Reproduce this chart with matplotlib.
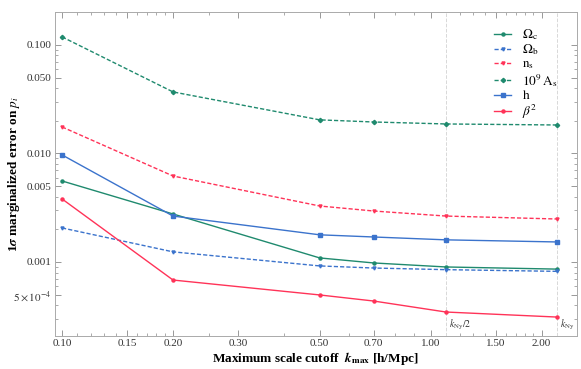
import matplotlib
matplotlib.use('Agg')
import matplotlib.pyplot as plt
from matplotlib.ticker import FixedLocator, NullFormatter

plt.rcParams['font.family'] = ['Liberation Serif', 'DejaVu Serif']
plt.rcParams['mathtext.fontset'] = 'stix'

# Scale cutoffs k_max [h/Mpc]
k_max = [0.1, 0.2, 0.5, 0.7, 1.1, 2.2]
k_ny = 2.2

# 1 sigma marginalized errors
err_omega_c = [0.00558, 0.00277, 0.00109, 0.00098, 0.00090, 0.00086]
err_omega_b = [0.00206, 0.00124, 0.00092, 0.00088, 0.00085, 0.00082]
err_ns = [0.01755, 0.0062, 0.00328, 0.00295, 0.00265, 0.00249]
err_as = [0.1186, 0.0369, 0.0204, 0.0195, 0.0187, 0.0183]
err_h = [0.0097, 0.00265, 0.00178, 0.0017, 0.0016, 0.00153]
err_beta2 = [0.00381, 0.000682, 0.000497, 0.000437, 0.000346, 0.000311]

labels = [r'$\Omega_{\rm c}$', r'$\Omega_{\rm b}$', r'$\mathrm{n_s}$',
          r'$10^9\,\mathrm{A}_\mathrm{s}$', r'$\mathrm{h}$', r'$\beta^2$']

xticks = [0.10, 0.15, 0.20, 0.30, 0.50, 0.70, 1.00, 1.50, 2.00]
yticks = [0.1, 0.05, 0.01, 0.005, 0.001, 0.0005]
ytick_labels = ['0.100', '0.050', '0.010', '0.005', '0.001', r'$5\times10^{-4}$']

green = '#1f8a6e'
blue = '#3b73cc'
red = '#ff3358'

fig = plt.figure(figsize=(5.81, 3.69), dpi=100)
ax = fig.add_axes([0.0947, 0.0894, 0.898, 0.878])

styles = [
    (err_omega_c, green, '-', 'o'),
    (err_omega_b, blue, '--', 'v'),
    (err_ns, red, '--', 'v'),
    (err_as, green, '--', 'D'),
    (err_h, blue, '-', 's'),
    (err_beta2, red, '-', 'o'),
]
for (vals, clr, ls, mk), lab in zip(styles, labels):
    ax.plot(k_max, vals, ls=ls, color=clr, lw=1.0, marker=mk, ms=2.2,
            label=lab, dashes=(3, 1.5) if ls == '--' else (None, None))

# Nyquist markers
for xv, txt in [(k_ny / 2, r'$k_{\rm Ny}/2$'), (k_ny, r'$k_{\rm Ny}$')]:
    ax.axvline(xv, color='#d8d8d8', lw=0.7, ls='--', zorder=0)
    ax.text(xv * 1.02, 3.05e-4, txt, fontsize=7, va='top', ha='left',
            color='#333333')

ax.set_xscale('log')
ax.set_yscale('log')
ax.set_xlim(0.0957, 2.49)
ax.set_ylim(2.08e-4, 0.201)

ax.xaxis.set_major_locator(FixedLocator(xticks))
ax.set_xticklabels(['%.2f' % t for t in xticks])
ax.xaxis.set_minor_locator(FixedLocator([0.25, 0.4, 0.6, 0.8, 0.9, 1.2, 1.3, 1.4, 1.6, 1.7, 1.8, 1.9, 0.11, 0.12, 0.13, 0.14, 0.16, 0.17, 0.18, 0.19]))
ax.xaxis.set_minor_formatter(NullFormatter())
ax.yaxis.set_major_locator(FixedLocator(yticks))
ax.set_yticklabels(ytick_labels)
minor_y = [m * 10.0 ** e for e in range(-4, 0) for m in range(2, 10)]
ax.yaxis.set_minor_locator(FixedLocator(minor_y))
ax.yaxis.set_minor_formatter(NullFormatter())

ax.tick_params(which='both', direction='in', top=True, right=True,
               color='#888888', labelsize=8, labelcolor='#333333', pad=2.5)
ax.tick_params(which='major', length=4, width=0.6)
ax.tick_params(which='minor', length=2, width=0.5)
for s in ax.spines.values():
    s.set_color('#aaaaaa')
    s.set_linewidth(0.7)

ax.set_xlabel(r'Maximum scale cutoff  $\boldsymbol{k}_{\rm \mathbf{max}}$ [h/Mpc]',
              fontsize=9.5, fontweight='bold', labelpad=1)
ax.set_ylabel(r'1$\boldsymbol{\sigma}$ marginalized error on $\boldsymbol{p_i}$',
              fontsize=9.5, fontweight='bold', va='center')
ax.yaxis.set_label_coords(-0.079, 0.5)

ax.legend(loc='upper right', bbox_to_anchor=(0.985, 0.99), frameon=False,
          fontsize=9.5, handlelength=1.3, handletextpad=0.8,
          labelspacing=0.05)

fig.savefig('out.png', dpi=100)
